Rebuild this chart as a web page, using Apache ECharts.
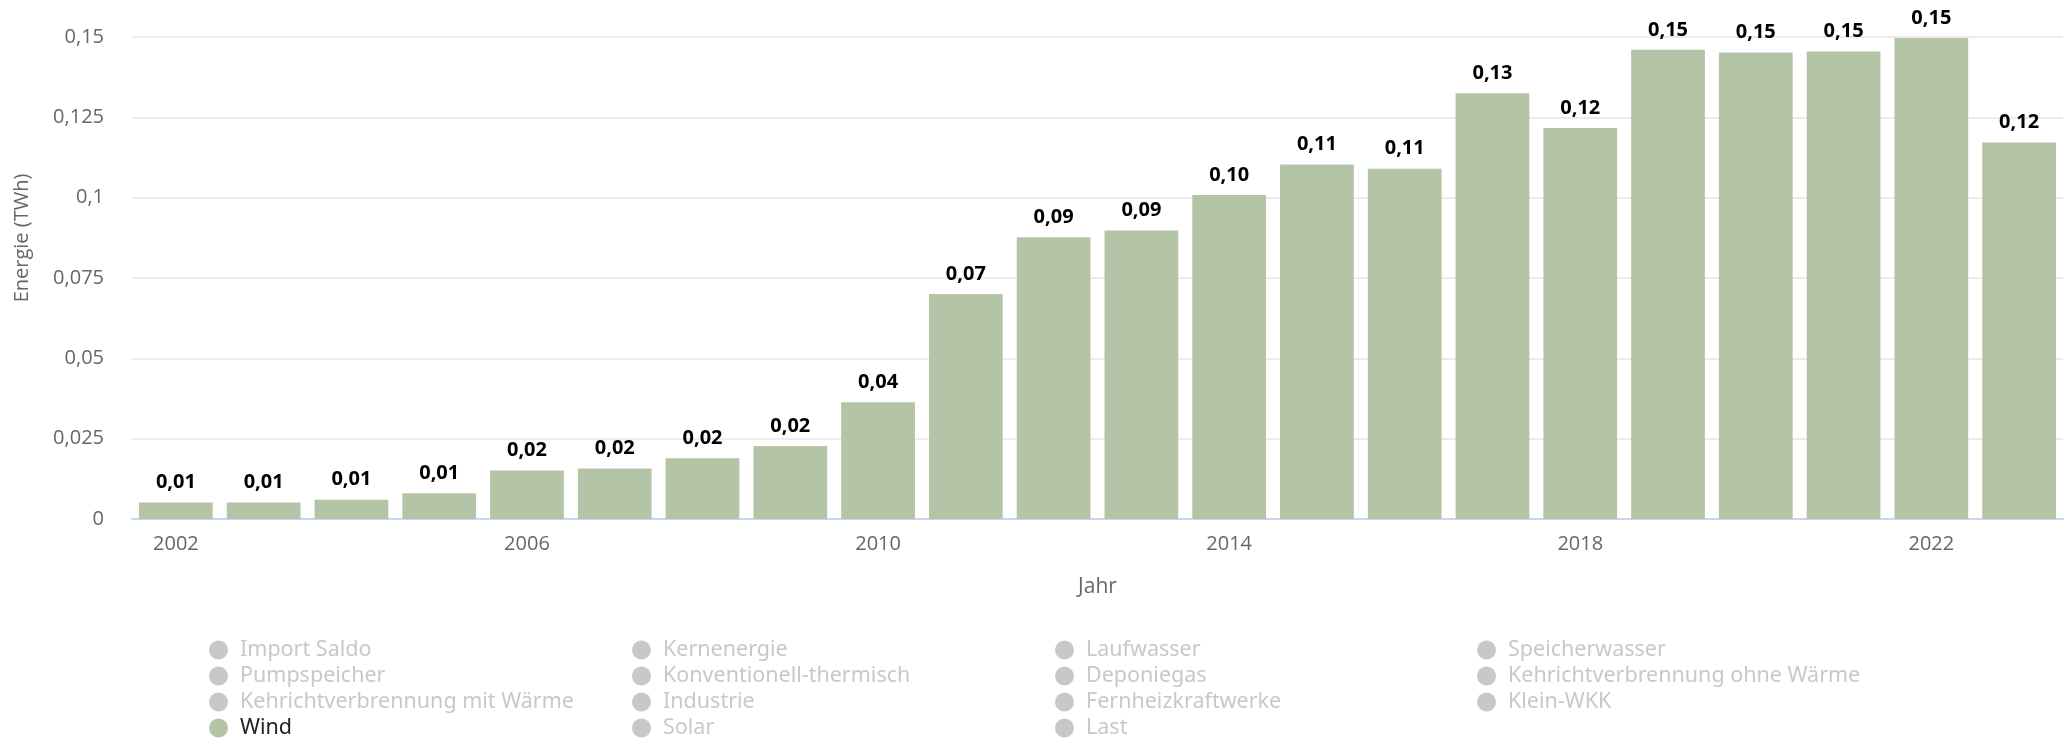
<!DOCTYPE html>
<html>
<head>
<meta charset="utf-8">
<script src="https://cdn.jsdelivr.net/npm/echarts@6/dist/echarts.min.js"></script>
<style>
  html, body { margin: 0; padding: 0; background: #fff; }
  #chart { width: 2071px; height: 738px; }
</style>
</head>
<body>
<div id="chart"></div>
<script>
const years = ['2002', '2003', '2004', '2005', '2006', '2007', '2008', '2009', '2010', '2011', '2012',
  '2013', '2014', '2015', '2016', '2017', '2018', '2019', '2020', '2021', '2022', '2023']
const wind = [0.0051, 0.0051, 0.006, 0.008, 0.0151, 0.0157, 0.0189, 0.0227, 0.0363, 0.070, 0.0877,
  0.0898, 0.1008, 0.1103, 0.109, 0.1325, 0.1217, 0.146, 0.1452, 0.1455, 0.1497, 0.1172]

// legend columns, as laid out in the reference (read column by column)
const legendCols = [
  ['Import Saldo', 'Pumpspeicher', 'Kehrichtverbrennung mit Wärme', 'Wind'],
  ['Kernenergie', 'Konventionell-thermisch', 'Industrie', 'Solar'],
  ['Laufwasser', 'Deponiegas', 'Fernheizkraftwerke', 'Last'],
  ['Speicherwasser', 'Kehrichtverbrennung ohne Wärme', 'Klein-WKK']
]
const colLeft = [209, 632, 1055, 1477]

const green = '#b3c4a7'
const labelFont = '"Noto Sans", sans-serif'
const axisFont = '"Open Sans", "Noto Sans", sans-serif'

const allNames = [].concat(...legendCols)
const selected = {}
allNames.forEach(n => { selected[n] = n === 'Wind' })

const comma = (v, d) => (d === undefined ? String(parseFloat(v.toFixed(3))) : v.toFixed(d)).replace('.', ',')

const series = allNames.map(name => {
  if (name !== 'Wind') {
    return { name: name, type: 'bar', data: [], itemStyle: { color: '#ccc' } }
  }
  return {
    name: 'Wind',
    type: 'bar',
    data: wind,
    barCategoryGap: '16%',
    itemStyle: { color: green },
    label: {
      show: true,
      position: 'top',
      distance: 10,
      color: '#000',
      fontFamily: labelFont,
      fontWeight: 'bold',
      fontSize: 20,
      formatter: p => comma(p.value, 2)
    }
  }
})

const legends = legendCols.map((col, i) => ({
  orient: 'vertical',
  left: colLeft[i],
  top: 637,
  height: 160,
  padding: 0,
  itemGap: 0,
  itemWidth: 19,
  itemHeight: 19,
  icon: 'circle',
  selected: selected,
  inactiveColor: '#c8c8c8',
  data: col,
  textStyle: { fontFamily: labelFont, fontSize: 21.5, lineHeight: 26, color: '#222', padding: [0, 0, 0, 7] }
}))

const chart = echarts.init(document.getElementById('chart'))
chart.setOption({
  animation: false,
  grid: { left: 132, right: 8, top: 37, bottom: 219 },
  legend: legends,
  graphic: [{
    type: 'text',
    x: 22,
    y: 238,
    rotation: Math.PI / 2,
    style: {
      text: 'Energie (TWh)',
      fill: '#666',
      fontFamily: axisFont,
      fontSize: 20,
      align: 'center',
      verticalAlign: 'middle'
    }
  }],
  xAxis: {
    type: 'category',
    data: years,
    name: 'Jahr',
    nameLocation: 'middle',
    nameGap: 58,
    nameTextStyle: { color: '#666', fontFamily: axisFont, fontSize: 21 },
    axisLine: { lineStyle: { color: '#ccd6eb', width: 2 } },
    axisTick: { show: false },
    axisLabel: { interval: 3, color: '#666', fontFamily: axisFont, fontSize: 20, margin: 15 }
  },
  yAxis: {
    type: 'value',
    min: 0,
    max: 0.15,
    interval: 0.025,
    axisLine: { show: false },
    axisTick: { show: false },
    splitLine: { lineStyle: { color: '#e6e6e6', width: 1.5 } },
    axisLabel: { color: '#666', fontFamily: axisFont, fontSize: 20, margin: 28, formatter: v => comma(v) }
  },
  series: series
})
</script>
</body>
</html>
